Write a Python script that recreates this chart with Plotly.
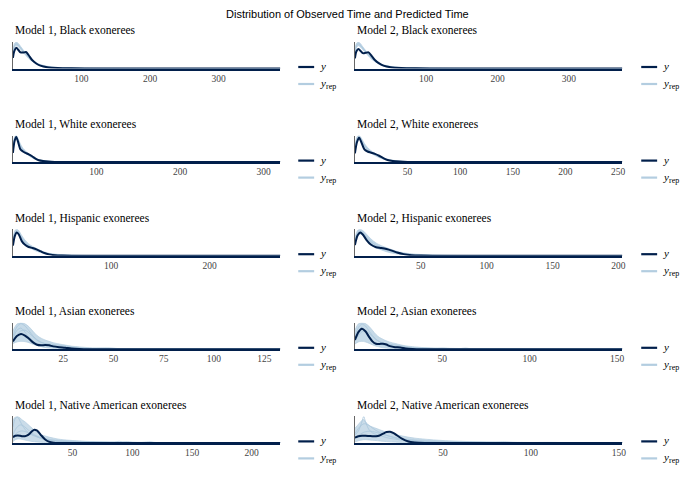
import plotly.graph_objects as go

W, H = 684, 482
DARK = "#011f4b"
LIGHT = "#b3cde0"

main_title = "Distribution of Observed Time and Predicted Time"

# ---------------- Model 1, Black ----------------
m1_black_x = [0, 2, 5, 8, 11, 15, 19, 23, 28, 34, 40, 50, 65, 85, 120, 180, 390]
m1_black_obs = [0.40, 0.66, 0.78, 0.70, 0.61, 0.60, 0.62, 0.50, 0.32, 0.19, 0.11, 0.05, 0.02, 0.008, 0.002, 0, 0]
m1_black_hi = [0.62, 0.93, 1.00, 0.94, 0.84, 0.70, 0.57, 0.45, 0.33, 0.22, 0.15, 0.085, 0.04, 0.02, 0.008, 0.002, 0]
m1_black_lo = [0.46, 0.77, 0.87, 0.82, 0.73, 0.61, 0.49, 0.38, 0.27, 0.17, 0.11, 0.06, 0.025, 0.01, 0.003, 0.0005, 0]
m1_black_rep = [0.54, 0.85, 0.93, 0.88, 0.78, 0.66, 0.53, 0.41, 0.30, 0.20, 0.13, 0.07, 0.03, 0.015, 0.005, 0.001, 0]

# ---------------- Model 2, Black ----------------
m2_black_x = [0, 2, 5, 8, 11, 15, 19, 23, 28, 34, 40, 50, 65, 85, 120, 180, 375]
m2_black_obs = [0.38, 0.64, 0.74, 0.66, 0.58, 0.59, 0.61, 0.49, 0.32, 0.19, 0.11, 0.05, 0.02, 0.008, 0.002, 0, 0]
m2_black_hi = [0.64, 0.94, 1.00, 0.93, 0.82, 0.68, 0.55, 0.43, 0.31, 0.21, 0.14, 0.08, 0.04, 0.02, 0.008, 0.002, 0]
m2_black_lo = [0.47, 0.78, 0.86, 0.80, 0.71, 0.59, 0.47, 0.36, 0.26, 0.16, 0.10, 0.055, 0.025, 0.01, 0.003, 0.0005, 0]
m2_black_rep = [0.55, 0.86, 0.93, 0.87, 0.77, 0.64, 0.51, 0.40, 0.29, 0.19, 0.12, 0.07, 0.03, 0.015, 0.005, 0.001, 0]

# ---------------- Model 1, White ----------------
m1_white_x = [0, 2, 4, 6, 9, 12, 15, 19, 23, 27, 31, 36, 42, 50, 65, 90, 130, 320]
m1_white_obs = [0.35, 0.80, 0.95, 0.78, 0.48, 0.40, 0.35, 0.29, 0.22, 0.13, 0.07, 0.04, 0.02, 0.008, 0.002, 0, 0, 0]
m1_white_hi = [0.55, 0.95, 1.00, 0.90, 0.68, 0.52, 0.42, 0.31, 0.22, 0.15, 0.10, 0.065, 0.04, 0.022, 0.01, 0.004, 0.001, 0]
m1_white_lo = [0.42, 0.84, 0.90, 0.78, 0.56, 0.43, 0.34, 0.24, 0.16, 0.10, 0.065, 0.04, 0.022, 0.01, 0.004, 0.001, 0, 0]
m1_white_rep = [0.48, 0.90, 0.96, 0.84, 0.62, 0.47, 0.38, 0.27, 0.19, 0.12, 0.08, 0.05, 0.03, 0.016, 0.007, 0.002, 0, 0]

# ---------------- Model 2, White ----------------
m2_white_x = [0, 2, 4, 6, 9, 12, 15, 19, 23, 27, 31, 36, 42, 50, 65, 90, 130, 254]
m2_white_obs = [0.33, 0.76, 0.92, 0.76, 0.48, 0.40, 0.36, 0.31, 0.24, 0.15, 0.08, 0.04, 0.02, 0.008, 0.002, 0, 0, 0]
m2_white_hi = [0.55, 0.95, 1.00, 0.91, 0.70, 0.55, 0.44, 0.33, 0.24, 0.16, 0.11, 0.07, 0.045, 0.025, 0.012, 0.005, 0.001, 0]
m2_white_lo = [0.42, 0.82, 0.88, 0.78, 0.57, 0.44, 0.35, 0.25, 0.17, 0.11, 0.07, 0.045, 0.025, 0.012, 0.005, 0.001, 0, 0]
m2_white_rep = [0.48, 0.89, 0.95, 0.85, 0.63, 0.49, 0.39, 0.29, 0.20, 0.13, 0.09, 0.055, 0.035, 0.018, 0.008, 0.003, 0, 0]

# ---------------- Model 1, Hispanic ----------------
m1_hisp_x = [0, 2, 4, 6, 9, 12, 16, 20, 24, 28, 32, 37, 43, 50, 60, 80, 110, 272]
m1_hisp_obs = [0.38, 0.75, 0.88, 0.80, 0.55, 0.42, 0.33, 0.29, 0.24, 0.17, 0.10, 0.05, 0.015, 0.004, 0, 0, 0, 0]
m1_hisp_hi = [0.62, 0.95, 1.00, 0.94, 0.76, 0.60, 0.45, 0.35, 0.27, 0.20, 0.14, 0.09, 0.06, 0.035, 0.02, 0.008, 0.003, 0]
m1_hisp_lo = [0.45, 0.78, 0.84, 0.78, 0.60, 0.46, 0.33, 0.24, 0.17, 0.12, 0.08, 0.05, 0.03, 0.015, 0.007, 0.002, 0, 0]
m1_hisp_rep = [0.52, 0.87, 0.93, 0.86, 0.68, 0.53, 0.39, 0.29, 0.22, 0.16, 0.11, 0.07, 0.045, 0.025, 0.012, 0.004, 0.001, 0]

# ---------------- Model 2, Hispanic ----------------
m2_hisp_x = [0, 2, 4, 6, 9, 12, 16, 20, 24, 28, 32, 37, 43, 50, 60, 75, 100, 203]
m2_hisp_obs = [0.40, 0.76, 0.88, 0.80, 0.58, 0.42, 0.32, 0.29, 0.25, 0.19, 0.12, 0.06, 0.02, 0.005, 0, 0, 0, 0]
m2_hisp_hi = [0.65, 0.95, 1.00, 0.95, 0.80, 0.64, 0.48, 0.38, 0.30, 0.23, 0.16, 0.11, 0.07, 0.045, 0.025, 0.012, 0.004, 0]
m2_hisp_lo = [0.45, 0.76, 0.82, 0.76, 0.58, 0.43, 0.30, 0.22, 0.15, 0.10, 0.065, 0.04, 0.022, 0.011, 0.005, 0.002, 0, 0]
m2_hisp_rep = [0.55, 0.86, 0.92, 0.86, 0.69, 0.54, 0.39, 0.30, 0.22, 0.16, 0.11, 0.07, 0.045, 0.025, 0.012, 0.005, 0.001, 0]

# ---------------- Model 1, Asian ----------------
m1_asian_x = [0, 2, 4, 6, 8, 10, 12, 14, 16, 18, 20, 23, 26, 29, 33, 38, 45, 55, 70, 133]
m1_asian_obs = [0.30, 0.50, 0.58, 0.52, 0.40, 0.26, 0.17, 0.15, 0.16, 0.15, 0.11, 0.08, 0.06, 0.03, 0.01, 0, 0, 0, 0, 0]
m1_asian_hi = [0.70, 0.95, 1.00, 0.96, 0.85, 0.68, 0.52, 0.42, 0.35, 0.30, 0.25, 0.20, 0.16, 0.12, 0.09, 0.06, 0.04, 0.025, 0.012, 0]
m1_asian_lo = [0.22, 0.28, 0.30, 0.29, 0.25, 0.19, 0.14, 0.10, 0.07, 0.05, 0.035, 0.02, 0.01, 0.005, 0, 0, 0, 0, 0, 0]
m1_asian_rep_a = [0.50, 0.85, 0.97, 0.88, 0.70, 0.50, 0.36, 0.27, 0.21, 0.17, 0.14, 0.10, 0.08, 0.06, 0.04, 0.025, 0.015, 0.008, 0.003, 0]
m1_asian_rep_b = [0.35, 0.55, 0.70, 0.72, 0.62, 0.47, 0.34, 0.26, 0.22, 0.20, 0.18, 0.15, 0.12, 0.08, 0.05, 0.03, 0.04, 0.01, 0.005, 0]
m1_asian_rep_c = [0.40, 0.72, 0.80, 0.65, 0.45, 0.30, 0.22, 0.18, 0.15, 0.12, 0.09, 0.06, 0.04, 0.03, 0.02, 0.01, 0.005, 0, 0, 0]
m1_asian_tail_x = [30, 40, 45, 48, 52, 60, 68, 72, 76, 82, 95, 104, 107, 110, 120, 133]
m1_asian_tail = [0.06, 0.03, 0.04, 0.05, 0.03, 0.015, 0.01, 0.03, 0.01, 0.02, 0.005, 0.01, 0.02, 0.01, 0.003, 0]

# ---------------- Model 2, Asian ----------------
m2_asian_x = [0, 2, 4, 6, 8, 10, 12, 14, 16, 18, 20, 23, 26, 29, 33, 38, 45, 55, 70, 90, 153]
m2_asian_obs = [0.35, 0.65, 0.78, 0.68, 0.48, 0.30, 0.21, 0.20, 0.21, 0.18, 0.12, 0.08, 0.07, 0.03, 0.01, 0, 0, 0, 0, 0, 0]
m2_asian_hi = [0.72, 0.96, 1.00, 0.97, 0.87, 0.72, 0.56, 0.45, 0.38, 0.32, 0.27, 0.22, 0.17, 0.13, 0.10, 0.07, 0.05, 0.035, 0.02, 0.01, 0]
m2_asian_lo = [0.20, 0.28, 0.30, 0.28, 0.23, 0.17, 0.12, 0.09, 0.06, 0.045, 0.03, 0.02, 0.01, 0.005, 0, 0, 0, 0, 0, 0, 0]
m2_asian_rep_a = [0.48, 0.82, 0.95, 0.88, 0.70, 0.52, 0.38, 0.29, 0.23, 0.19, 0.15, 0.11, 0.08, 0.06, 0.04, 0.03, 0.02, 0.01, 0.005, 0.002, 0]
m2_asian_rep_b = [0.32, 0.52, 0.66, 0.70, 0.62, 0.49, 0.37, 0.29, 0.24, 0.21, 0.19, 0.16, 0.13, 0.09, 0.06, 0.04, 0.03, 0.015, 0.006, 0.002, 0]
m2_asian_rep_c = [0.42, 0.70, 0.82, 0.68, 0.48, 0.33, 0.24, 0.20, 0.16, 0.13, 0.10, 0.07, 0.05, 0.035, 0.02, 0.012, 0.006, 0.002, 0, 0, 0]
m2_asian_tail_x = [30, 40, 47, 50, 54, 60, 63, 67, 75, 80, 85, 89, 92, 96, 110, 140, 148, 153]
m2_asian_tail = [0.07, 0.04, 0.03, 0.045, 0.03, 0.025, 0.045, 0.02, 0.012, 0.02, 0.03, 0.015, 0.025, 0.01, 0.005, 0.003, 0.015, 0.02]

# ---------------- Model 1, Native American ----------------
m1_native_x = [0, 2, 4, 6, 8, 10, 12, 14, 16, 18, 20, 22, 24, 27, 30, 34, 40, 50, 65, 85, 110, 224]
m1_native_obs = [0.22, 0.27, 0.28, 0.27, 0.25, 0.25, 0.28, 0.35, 0.44, 0.50, 0.47, 0.38, 0.27, 0.13, 0.05, 0.01, 0, 0, 0, 0, 0, 0]
m1_native_hi = [0.85, 0.98, 1.00, 0.94, 0.86, 0.80, 0.72, 0.64, 0.56, 0.48, 0.42, 0.36, 0.31, 0.26, 0.22, 0.18, 0.13, 0.09, 0.05, 0.03, 0.015, 0]
m1_native_lo = [0.05, 0.12, 0.15, 0.15, 0.13, 0.11, 0.09, 0.07, 0.055, 0.045, 0.035, 0.028, 0.02, 0.012, 0.006, 0.002, 0, 0, 0, 0, 0, 0]
m1_native_rep_a = [0.60, 0.92, 0.97, 0.82, 0.65, 0.52, 0.42, 0.35, 0.30, 0.26, 0.23, 0.20, 0.17, 0.14, 0.11, 0.08, 0.06, 0.04, 0.02, 0.01, 0.005, 0]
m1_native_rep_b = [0.30, 0.50, 0.62, 0.68, 0.66, 0.60, 0.52, 0.44, 0.37, 0.31, 0.26, 0.22, 0.19, 0.16, 0.13, 0.10, 0.07, 0.05, 0.03, 0.015, 0.005, 0]
m1_native_rep_c = [0.20, 0.32, 0.40, 0.44, 0.45, 0.43, 0.40, 0.36, 0.32, 0.28, 0.24, 0.20, 0.17, 0.13, 0.10, 0.07, 0.045, 0.025, 0.01, 0.004, 0, 0]
m1_native_tail_x = [30, 45, 60, 75, 85, 89, 92, 96, 100, 108, 112, 115, 118, 125, 150, 224]
m1_native_tail = [0.12, 0.08, 0.05, 0.03, 0.035, 0.06, 0.04, 0.05, 0.025, 0.02, 0.035, 0.045, 0.02, 0.01, 0.003, 0]

# ---------------- Model 2, Native American ----------------
m2_native_x = [0, 2, 4, 5, 6, 8, 10, 12, 14, 16, 18, 20, 22, 24, 27, 30, 34, 40, 50, 65, 85, 110, 152]
m2_native_obs = [0.20, 0.25, 0.27, 0.27, 0.27, 0.26, 0.25, 0.25, 0.28, 0.35, 0.41, 0.42, 0.37, 0.28, 0.15, 0.06, 0.015, 0, 0, 0, 0, 0, 0]
m2_native_hi = [0.55, 0.70, 0.85, 0.88, 0.80, 0.66, 0.60, 0.55, 0.50, 0.45, 0.40, 0.36, 0.33, 0.30, 0.26, 0.22, 0.18, 0.14, 0.09, 0.05, 0.025, 0.012, 0]
m2_native_lo = [0.04, 0.08, 0.11, 0.12, 0.12, 0.11, 0.10, 0.09, 0.075, 0.06, 0.05, 0.04, 0.032, 0.025, 0.015, 0.008, 0.003, 0, 0, 0, 0, 0, 0]
m2_native_rep_a = [0.30, 0.45, 0.80, 1.00, 0.80, 0.50, 0.38, 0.32, 0.28, 0.24, 0.20, 0.17, 0.15, 0.13, 0.10, 0.08, 0.05, 0.03, 0.015, 0.006, 0.002, 0, 0]
m2_native_rep_b = [0.35, 0.55, 0.68, 0.72, 0.72, 0.66, 0.56, 0.47, 0.40, 0.34, 0.29, 0.25, 0.22, 0.19, 0.15, 0.12, 0.09, 0.06, 0.035, 0.015, 0.006, 0.002, 0]
m2_native_rep_c = [0.18, 0.28, 0.36, 0.40, 0.42, 0.44, 0.43, 0.40, 0.36, 0.32, 0.28, 0.24, 0.20, 0.17, 0.13, 0.10, 0.07, 0.045, 0.025, 0.01, 0.004, 0, 0]
m2_native_tail_x = [28, 40, 55, 70, 80, 85, 90, 100, 110, 130, 152]
m2_native_tail = [0.15, 0.09, 0.05, 0.03, 0.03, 0.04, 0.02, 0.015, 0.02, 0.005, 0]

# panel titles, x ranges and tick labels
panel_titles = [
    "Model 1, Black exonerees", "Model 2, Black exonerees",
    "Model 1, White exonerees", "Model 2, White exonerees",
    "Model 1, Hispanic exonerees", "Model 2, Hispanic exonerees",
    "Model 1, Asian exonerees", "Model 2, Asian exonerees",
    "Model 1, Native American exonerees", "Model 2, Native American exonerees",
]
x_ranges = [[0, 390], [0, 375], [0, 320], [0, 254], [0, 272],
            [0, 203], [0, 133], [0, 153], [0, 224], [0, 152]]
tick_values = [[100, 200, 300], [100, 200, 300], [100, 200, 300],
               [50, 100, 150, 200, 250], [100, 200], [50, 100, 150, 200],
               [25, 50, 75, 100, 125], [50, 100, 150], [50, 100, 150, 200], [50, 100, 150]]
fill_alpha = [0.85, 0.85, 0.85, 0.85, 0.85, 0.85, 0.75, 0.75, 0.7, 0.7]

panels = [
    dict(x=m1_black_x, obs=m1_black_obs, lo=m1_black_lo, hi=m1_black_hi, reps=[m1_black_rep], tx=None, tail=None),
    dict(x=m2_black_x, obs=m2_black_obs, lo=m2_black_lo, hi=m2_black_hi, reps=[m2_black_rep], tx=None, tail=None),
    dict(x=m1_white_x, obs=m1_white_obs, lo=m1_white_lo, hi=m1_white_hi, reps=[m1_white_rep], tx=None, tail=None),
    dict(x=m2_white_x, obs=m2_white_obs, lo=m2_white_lo, hi=m2_white_hi, reps=[m2_white_rep], tx=None, tail=None),
    dict(x=m1_hisp_x, obs=m1_hisp_obs, lo=m1_hisp_lo, hi=m1_hisp_hi, reps=[m1_hisp_rep], tx=None, tail=None),
    dict(x=m2_hisp_x, obs=m2_hisp_obs, lo=m2_hisp_lo, hi=m2_hisp_hi, reps=[m2_hisp_rep], tx=None, tail=None),
    dict(x=m1_asian_x, obs=m1_asian_obs, lo=m1_asian_lo, hi=m1_asian_hi,
         reps=[m1_asian_rep_a, m1_asian_rep_b, m1_asian_rep_c], tx=m1_asian_tail_x, tail=m1_asian_tail),
    dict(x=m2_asian_x, obs=m2_asian_obs, lo=m2_asian_lo, hi=m2_asian_hi,
         reps=[m2_asian_rep_a, m2_asian_rep_b, m2_asian_rep_c], tx=m2_asian_tail_x, tail=m2_asian_tail),
    dict(x=m1_native_x, obs=m1_native_obs, lo=m1_native_lo, hi=m1_native_hi,
         reps=[m1_native_rep_a, m1_native_rep_b, m1_native_rep_c], tx=m1_native_tail_x, tail=m1_native_tail),
    dict(x=m2_native_x, obs=m2_native_obs, lo=m2_native_lo, hi=m2_native_hi,
         reps=[m2_native_rep_a, m2_native_rep_b, m2_native_rep_c], tx=m2_native_tail_x, tail=m2_native_tail),
]

fig = go.Figure()
annotations = []
shapes = []

SERIF = "Liberation Serif"
SANS = "Liberation Sans"

for i, p in enumerate(panels):
    n = i + 1
    xa = "x" if n == 1 else f"x{n}"
    ya = "y" if n == 1 else f"y{n}"
    row, col = divmod(i, 2)
    left_px = 13 if col == 0 else 357
    right_px = left_px + 269
    top_px = 42 + 93.6 * row
    bot_px = top_px + 26.5

    common = dict(xaxis=xa, yaxis=ya, showlegend=False, hoverinfo="skip", mode="lines")
    fig.add_trace(go.Scatter(x=p["x"], y=p["lo"], line=dict(color=LIGHT, width=0.7, shape="spline", smoothing=0.8), **common))
    fig.add_trace(go.Scatter(x=p["x"], y=p["hi"], fill="tonexty",
                             fillcolor=f"rgba(179,205,224,{fill_alpha[i]})",
                             line=dict(color=LIGHT, width=0.7, shape="spline", smoothing=0.8), **common))
    for r in p["reps"]:
        fig.add_trace(go.Scatter(x=p["x"], y=r, line=dict(color="#a9c6dc", width=0.8, shape="spline", smoothing=0.8), **common))
    if p["tx"] is not None:
        fig.add_trace(go.Scatter(x=p["tx"], y=p["tail"], line=dict(color=LIGHT, width=0.8, shape="spline", smoothing=0.8), **common))
    fig.add_trace(go.Scatter(x=p["x"], y=p["obs"], line=dict(color=DARK, width=2, shape="spline", smoothing=0.8), **common))

    xkey = "xaxis" if n == 1 else f"xaxis{n}"
    ykey = "yaxis" if n == 1 else f"yaxis{n}"
    fig.layout[xkey] = dict(domain=[left_px / W, right_px / W], anchor=ya, range=x_ranges[i],
                            tickvals=tick_values[i], ticks="", showgrid=False, zeroline=False,
                            showline=True, linecolor=DARK, linewidth=1.5,
                            tickfont=dict(family=SERIF, size=9.5, color="#444"))
    fig.layout[ykey] = dict(domain=[1 - bot_px / H, 1 - top_px / H], anchor=xa, range=[0, 1],
                            showticklabels=False, ticks="", showgrid=False, zeroline=False,
                            showline=True, linecolor="#666", linewidth=1)

    annotations.append(dict(text=panel_titles[i], x=left_px / W, y=1 - (top_px - 11) / H,
                            xref="paper", yref="paper", xanchor="left", yanchor="middle",
                            showarrow=False, font=dict(family=SERIF, size=11.5, color="black")))

    # per-panel legend
    lx0 = 300 if col == 0 else 645
    ly1 = 67 + 93.6 * row
    ly2 = ly1 + 17
    shapes.append(dict(type="line", xref="paper", yref="paper", x0=lx0 / W, x1=(lx0 + 16) / W,
                       y0=1 - ly1 / H, y1=1 - ly1 / H, line=dict(color=DARK, width=2.2)))
    shapes.append(dict(type="line", xref="paper", yref="paper", x0=lx0 / W, x1=(lx0 + 16) / W,
                       y0=1 - ly2 / H, y1=1 - ly2 / H, line=dict(color=LIGHT, width=2.2)))
    annotations.append(dict(text="y", x=(lx0 + 20) / W, y=1 - (ly1 - 1) / H, xref="paper", yref="paper",
                            xanchor="left", yanchor="middle", showarrow=False,
                            font=dict(family=SERIF, size=11, color="black", style="italic")))
    annotations.append(dict(text="y", x=(lx0 + 20) / W, y=1 - (ly2 - 1) / H, xref="paper",
                            yref="paper", xanchor="left", yanchor="middle", showarrow=False,
                            font=dict(family=SERIF, size=11, color="black", style="italic")))
    annotations.append(dict(text="rep", x=(lx0 + 25.5) / W, y=1 - (ly2 + 2.5) / H, xref="paper",
                            yref="paper", xanchor="left", yanchor="middle", showarrow=False,
                            font=dict(family=SERIF, size=8, color="black")))

annotations.append(dict(text=main_title, x=350 / W, y=1 - 14 / H, xref="paper", yref="paper",
                        xanchor="center", yanchor="middle", showarrow=False,
                        font=dict(family=SANS, size=11, color="black")))

fig.update_layout(width=W, height=H, margin=dict(l=0, r=0, t=0, b=0),
                  paper_bgcolor="white", plot_bgcolor="white",
                  annotations=annotations, shapes=shapes, showlegend=False)

fig.write_html("out.html")
